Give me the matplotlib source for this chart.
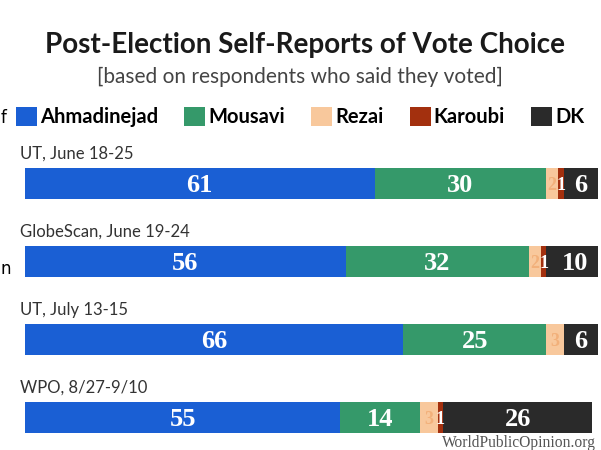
import matplotlib.pyplot as plt
from matplotlib.patches import Patch

# survey results, percent of respondents who said they voted
polls = ["UT, June 18-25", "GlobeScan, June 19-24", "UT, July 13-15", "WPO, 8/27-9/10"]
candidates = ["Ahmadinejad", "Mousavi", "Rezai", "Karoubi", "DK"]
ahmadinejad = [61, 56, 66, 55]
mousavi = [30, 32, 25, 14]
rezai = [2, 2, 3, 3]
karoubi = [1, 1, 0, 1]
dk = [6, 10, 6, 26]

colors = ["#1a5fd4", "#35996a", "#f8c89c", "#a3300e", "#2a2a2a"]
label_colors = ["white", "white", "#f2b07a", "white", "white"]

W, H = 601, 450
fig = plt.figure(figsize=(W / 100, H / 100), dpi=100)
fig.patch.set_facecolor("white")

# bar area: rows 78px apart, first row centred 183.5px from the top
row_gap, first_row = 78.0, 183.5
ax = fig.add_axes([25 / W, 0, 573 / W, 1])
ax.set_xlim(0, 100)
ax.set_ylim((H - first_row) / row_gap, -first_row / row_gap)
ax.axis("off")

bar_h = 31 / row_gap
series = [ahmadinejad, mousavi, rezai, karoubi, dk]
left = [0] * len(polls)
for vals, col, lcol in zip(series, colors, label_colors):
    ax.barh(range(len(polls)), vals, left=left, height=bar_h, color=col, linewidth=0)
    for i, v in enumerate(vals):
        if v > 0:
            small = v < 5
            ax.text(left[i] + v / 2, i + 0.02, str(v), ha="center", va="center",
                    color=lcol, fontsize=13 if small else 19, fontweight="bold",
                    family="Liberation Serif")
    left = [l + v for l, v in zip(left, vals)]

for i, name in enumerate(polls):
    ax.text(-0.9, i - 0.38, name, ha="left", va="center", fontsize=12,
            color="#333333", family="Lato", clip_on=False)

fig.text(305 / W, 1 - 45 / H, "Post-Election Self-Reports of Vote Choice",
         ha="center", va="center", fontsize=20, fontweight="bold",
         color="#1a1a1a", family="Lato")
fig.text(300 / W, 1 - 77 / H, "[based on respondents who said they voted]",
         ha="center", va="center", fontsize=15, color="#444444", family="Lato")

handles = [Patch(facecolor=c, edgecolor="none") for c in colors]
fig.legend(handles, candidates, loc="center", bbox_to_anchor=(300 / W, 1 - 117 / H),
           ncol=5, frameon=False, handlelength=1.05, handleheight=1.05,
           handletextpad=0.15, columnspacing=1.3,
           prop={"family": "Lato", "weight": "bold", "size": 14.5})

# cut-off text from the neighbouring column
fig.text(1 / W, 1 - 118 / H, "f", ha="left", va="center", fontsize=12, family="DejaVu Sans")
fig.text(0 / W, 1 - 269 / H, "n", ha="left", va="center", fontsize=12, family="DejaVu Sans")

fig.text(442 / W, 1 - 443 / H, "WorldPublicOpinion.org", ha="left", va="center",
         fontsize=11.2, color="#555555", family="Liberation Serif")

fig.savefig("out.png", dpi=100, facecolor="white")
